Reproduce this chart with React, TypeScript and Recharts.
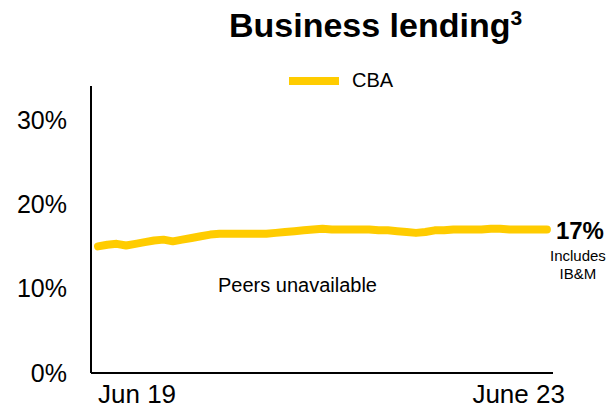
import React from 'react';
import { LineChart, Line, XAxis, YAxis } from 'recharts';

const FONT = '"Liberation Sans", Arial, sans-serif';
const YELLOW = '#FFCC00';

// monthly, Jun 19 .. June 23
const MONTHS = Array.from({ length: 49 }, (_, i) => i);
const CBA = [
  15.0, 15.2, 15.3, 15.1, 15.3, 15.5, 15.7, 15.8, 15.6, 15.8,
  16.0, 16.2, 16.4, 16.5, 16.5, 16.5, 16.5, 16.5, 16.5, 16.6,
  16.7, 16.8, 16.9, 17.0, 17.1, 17.0, 17.0, 17.0, 17.0, 17.0,
  16.9, 16.9, 16.8, 16.7, 16.6, 16.7, 16.9, 16.9, 17.0, 17.0,
  17.0, 17.0, 17.1, 17.1, 17.0, 17.0, 17.0, 17.0, 17.0,
];
const X_LABELS: Record<number, string> = { 0: 'Jun 19', 48: 'June 23' };
const Y_TICKS = [0, 10, 20, 30];

const data = MONTHS.map((m, i) => ({ m, cba: CBA[i] }));

const XTick = (props: any) => {
  const { x, y, payload } = props;
  const first = payload.value === 0;
  return (
    <text x={first ? x : x + 18} y={y} dy={22} textAnchor={first ? 'start' : 'end'}
      fontSize={26} fontFamily={FONT} fill="#000">
      {X_LABELS[payload.value]}
    </text>
  );
};

const EndLabel = (props: any) => {
  const { x, y, index } = props;
  if (index !== CBA.length - 1) return null;
  return (
    <g fontFamily={FONT} fill="#000">
      <text x={x + 9} y={y + 9} fontSize={24} fontWeight="bold">{`${Math.round(CBA[index])}%`}</text>
      <text x={x + 31} y={y + 31} fontSize={15} textAnchor="middle">Includes</text>
      <text x={x + 31} y={y + 49} fontSize={15} textAnchor="middle">IB&amp;M</text>
    </g>
  );
};

export default function App() {
  return (
    <div style={{ position: 'absolute', left: 0, top: 0, width: 608, height: 409, background: '#fff' }}>
      <div style={{ position: 'absolute', left: 229, top: 6, fontFamily: FONT, fontSize: 34, fontWeight: 'bold', whiteSpace: 'nowrap' }}>
        Business lending<sup style={{ fontSize: 21, verticalAlign: 'top', position: 'relative', top: 0 }}>3</sup>
      </div>
      <div style={{ position: 'absolute', left: 289, top: 69, display: 'flex', alignItems: 'center', fontFamily: FONT, fontSize: 20 }}>
        <span style={{ display: 'inline-block', width: 50, height: 8, background: YELLOW, marginRight: 13 }} />
        <span>CBA</span>
      </div>
      <div style={{ position: 'absolute', left: 218, top: 274, fontFamily: FONT, fontSize: 20, whiteSpace: 'nowrap' }}>
        Peers unavailable
      </div>
      <LineChart width={608} height={409} data={data} margin={{ top: 86, right: 55, bottom: 6, left: 0 }}>
        <XAxis dataKey="m" type="number" domain={[-0.75, 48.65]} ticks={[0, 48]} tick={<XTick />}
          tickLine={false} axisLine={{ stroke: '#000', strokeWidth: 2 }} height={30} interval={0} />
        <YAxis domain={[0, 34]} ticks={Y_TICKS} tickFormatter={(v) => `${v}%`} width={91}
          tickLine={false} tickMargin={18} axisLine={{ stroke: '#000', strokeWidth: 2 }}
          tick={{ fontSize: 25, fontFamily: FONT, fill: '#000' }} />
        <Line dataKey="cba" name="CBA" stroke={YELLOW} strokeWidth={8} strokeLinecap="round"
          strokeLinejoin="round" dot={false} isAnimationActive={false} label={<EndLabel />} />
      </LineChart>
    </div>
  );
}
